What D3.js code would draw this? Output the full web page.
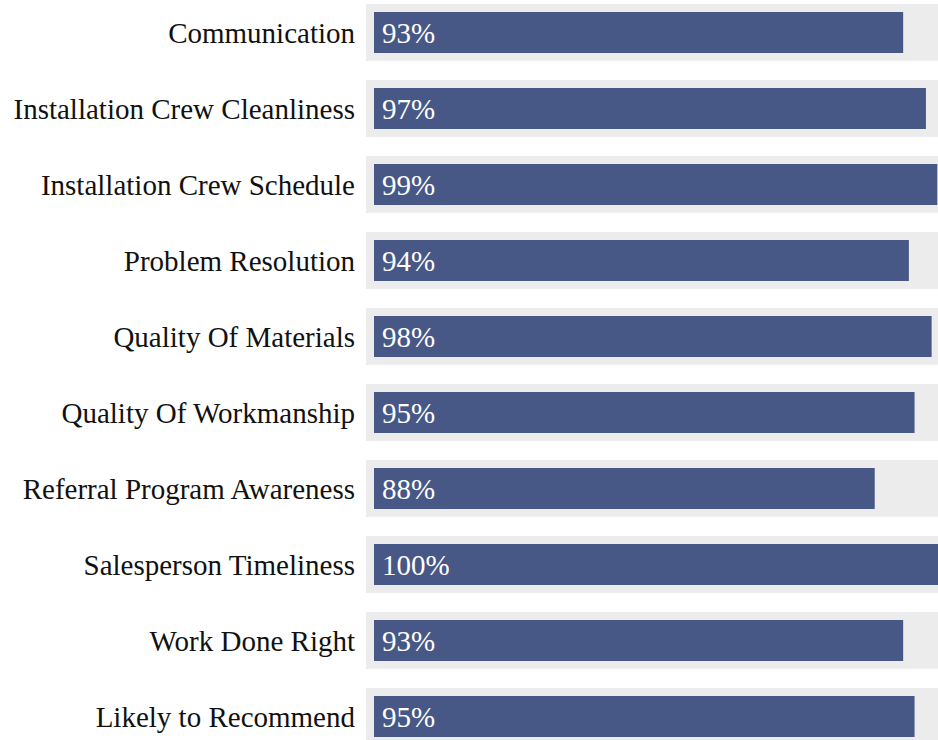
<!DOCTYPE html>
<html>
<head>
<meta charset="utf-8">
<script src="https://cdn.jsdelivr.net/npm/d3@7"></script>
<style>
  html, body { margin: 0; padding: 0; background: #fff; overflow: hidden; }
  svg { display: block; }
</style>
</head>
<body>
<div id="chart"></div>
<script>
// survey categories and their scores (percent)
const categories = [
  'Communication',
  'Installation Crew Cleanliness',
  'Installation Crew Schedule',
  'Problem Resolution',
  'Quality Of Materials',
  'Quality Of Workmanship',
  'Referral Program Awareness',
  'Salesperson Timeliness',
  'Work Done Right',
  'Likely to Recommend'
]
const values = [93, 97, 99, 94, 98, 95, 88, 100, 93, 95]

const width = 938
const height = 740

const svg = d3.select('#chart').append('svg')
  .attr('width', width)
  .attr('height', height)

const rows = categories.map((c, i) => ({ name: c, value: values[i] }))

// scales
const yScale = d3.scaleBand()
  .domain(categories)
  .range([4, 745])
  .paddingInner(0.25)
  .paddingOuter(0)

const xScale = d3.scaleLinear()
  .domain([0, 100])
  .range([374, 943])

const inset = 8
const font = '"Liberation Serif", "Times New Roman", Times, serif'

const row = svg.selectAll('g.row')
  .data(rows)
  .enter()
  .append('g')
  .attr('class', 'row')

// light background track
row.append('rect')
  .attr('x', xScale(0) - inset)
  .attr('y', d => yScale(d.name))
  .attr('width', xScale(100) - xScale(0) + inset * 2)
  .attr('height', yScale.bandwidth())
  .attr('fill', '#ececec')

// value bar
row.append('rect')
  .attr('x', xScale(0))
  .attr('y', d => yScale(d.name) + inset)
  .attr('width', d => xScale(d.value) - xScale(0))
  .attr('height', yScale.bandwidth() - inset * 2)
  .attr('fill', '#475786')

// category label
row.append('text')
  .attr('x', xScale(0) - inset - 11)
  .attr('y', d => yScale(d.name) + yScale.bandwidth() / 2)
  .attr('dy', '0.35em')
  .attr('text-anchor', 'end')
  .style('font-family', font)
  .style('font-size', '29px')
  .attr('fill', '#111')
  .text(d => d.name)

// value label inside the bar
row.append('text')
  .attr('x', xScale(0) + 8)
  .attr('y', d => yScale(d.name) + yScale.bandwidth() / 2)
  .attr('dy', '0.35em')
  .style('font-family', font)
  .style('font-size', '29px')
  .attr('fill', '#fff')
  .text(d => d.value + '%')
</script>
</body>
</html>
